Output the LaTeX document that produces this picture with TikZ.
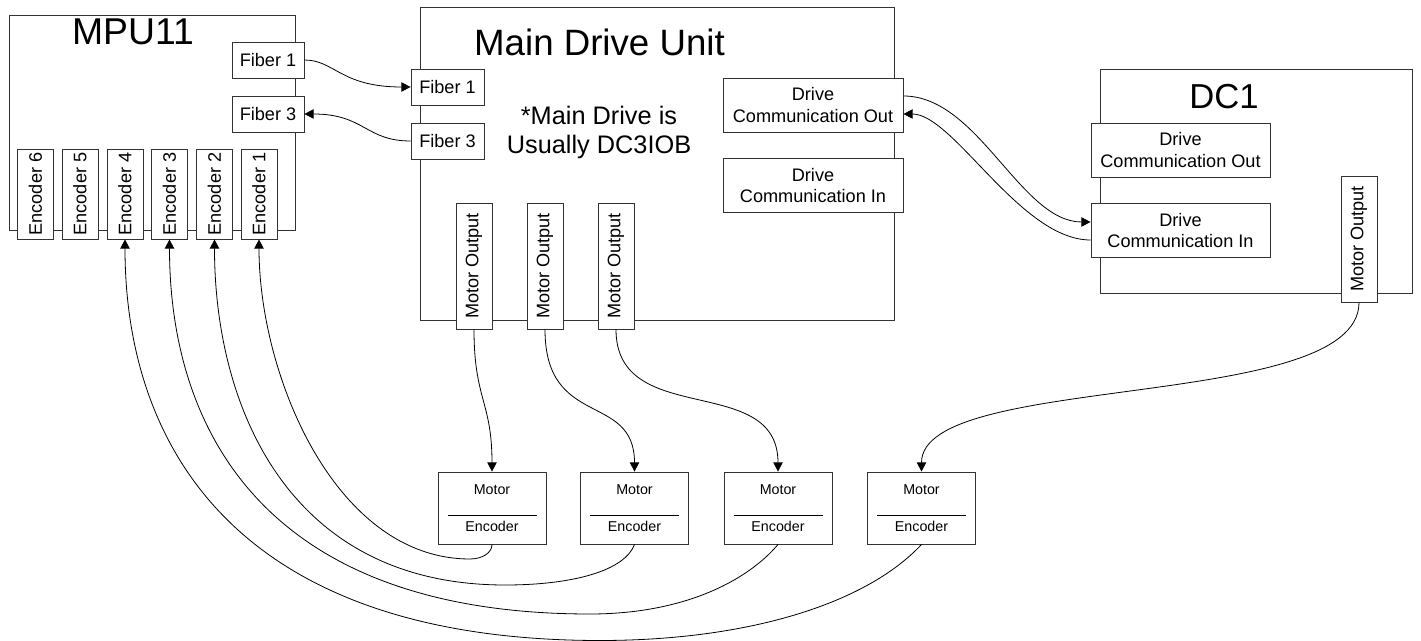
\documentclass[tikz,border=0pt]{standalone}
\usepackage{fontspec}
\setmainfont{Liberation Sans}
\usetikzlibrary{arrows.meta}
\tikzset{
 x=0.75pt,y=-0.75pt,
 box/.style={draw=black!80,line width=0.7pt,fill=white,inner sep=0pt,align=center,font=\fontsize{13.6}{16}\selectfont},
 container/.style={draw=black!80,line width=0.7pt,fill=white,inner sep=0pt},
 title/.style={inner sep=0pt,font=\fontsize{27.5}{30}\selectfont},
 note/.style={inner sep=0pt,align=center,font=\fontsize{19}{21.75}\selectfont},
 small/.style={inner sep=0pt,font=\fontsize{10.7}{12}\selectfont},
 wire/.style={line width=0.6pt,black},
 arr/.style={wire,-{Triangle[length=6.8pt,width=7pt]}},
}
\begin{document}
\begin{tikzpicture}
\useasboundingbox (0,0) rectangle (1421,641);
% containers
\node[container,minimum width=286*0.75pt,minimum height=215*0.75pt] (mpu) at (152,122.5) {};
\node[container,minimum width=474*0.75pt,minimum height=313*0.75pt] (main) at (657,163.5) {};
\node[container,minimum width=312*0.75pt,minimum height=224*0.75pt] (dc) at (1256,181) {};
\node[title,font=\fontsize{28}{30}\selectfont] (tmpu) at (133,32) {MPU11};
\node[title] (tmain) at (599.5,42) {Main Drive Unit};
\node[title,font=\fontsize{26}{30}\selectfont] (tdc) at (1224,97) {DC1};
\node[note] (nmain) at (599,132) {*Main Drive is\\Usually DC3IOB};
% MPU ports
\node[box,minimum width=72*0.75pt,minimum height=36*0.75pt] (mf1) at (268,60) {Fiber 1};
\node[box,minimum width=72*0.75pt,minimum height=36*0.75pt] (mf3) at (268,114) {Fiber 3};
\foreach \n/\cx in {6/35.5,5/80,4/125,3/169.5,2/214.5,1/259}{
 \node[box,rotate=90,minimum width=90*0.75pt,minimum height=36*0.75pt] (enc\n) at (\cx,194) {Encoder \n};
}
% main ports
\node[box,minimum width=73*0.75pt,minimum height=36*0.75pt] (df1) at (447.5,87) {Fiber 1};
\node[box,minimum width=73*0.75pt,minimum height=36*0.75pt] (df3) at (447.5,141) {Fiber 3};
\node[box,minimum width=180*0.75pt,minimum height=54*0.75pt] (dout) at (813,105) {Drive\\Communication Out};
\node[box,minimum width=180*0.75pt,minimum height=54*0.75pt] (din) at (813,185.5) {Drive\\Communication In};
\foreach \n/\cx in {1/474,2/545,3/616}{
 \node[box,rotate=90,minimum width=126*0.75pt,minimum height=36*0.75pt] (mo\n) at (\cx,266) {Motor Output};
}
% DC1 ports
\node[box,minimum width=179*0.75pt,minimum height=54*0.75pt] (cout) at (1180.5,150) {Drive\\Communication Out};
\node[box,minimum width=179*0.75pt,minimum height=54*0.75pt] (cin) at (1180.5,230.5) {Drive\\Communication In};
\node[box,rotate=90,minimum width=126*0.75pt,minimum height=36*0.75pt] (mo4) at (1359,239) {Motor Output};
% motors
\foreach \n/\cx in {1/492,2/634.5,3/778,4/921.5}{
 \node[container,minimum width=108*0.75pt,minimum height=72*0.75pt] (m\n) at (\cx,508) {};
 \node[small] (mt\n) at (\cx,490) {Motor};
 \node[small] (me\n) at (\cx,526.5) {Encoder};
 \draw[wire] ([xshift=-44.5*0.75pt]m\n.center) ++(0,7) coordinate (la\n) -- ++(89,0) coordinate (lb\n);
}
\coordinate (b1) at (470,559);
\coordinate (b2) at (505,585);
\coordinate (b3) at (590,614);
\coordinate (b4) at (600,640.5);
% wires
\draw[arr] (mf1.east) .. controls +(30,0) and +(-70,0) .. (df1.west);
\draw[arr] (df3.west) .. controls +(-45,0) and +(60,0) .. (mf3.east);
\draw[arr] (dout.east|-0,96) .. controls +(75,0) and +(-70,0) .. (cin.west|-0,222);
\draw[arr] (cin.west|-0,240) .. controls +(-70,0) and +(50,0) .. (dout.east|-0,114);
\draw[arr] (mo1.west) .. controls +(0,70) and +(0,-70) .. (m1.north);
\draw[arr] (mo2.west) .. controls +(0,100) and +(0,-80) .. (m2.north);
\draw[arr] (mo3.west) .. controls +(0,100) and +(0,-100) .. (m3.north);
\draw[arr] (mo4.west) .. controls +(0,110) and +(0,-100) .. (m4.north);
\draw[arr] (m1.south) .. controls (492,553) and (482,559) .. (b1) .. controls (335,559) and (259,375) .. (enc1.west);
\draw[arr] (m2.south) .. controls (625,570) and (575,585) .. (b2) .. controls (288,585) and (214.5,406) .. (enc2.west);
\draw[arr] (m3.south) .. controls (748,580) and (685,614) .. (b3) .. controls (262,614) and (169.5,427) .. (enc3.west);
\draw[arr] (m4.south) .. controls (865,605) and (745,640.5) .. (b4) .. controls (230,640.5) and (125,440) .. (enc4.west);
\end{tikzpicture}
\end{document}
